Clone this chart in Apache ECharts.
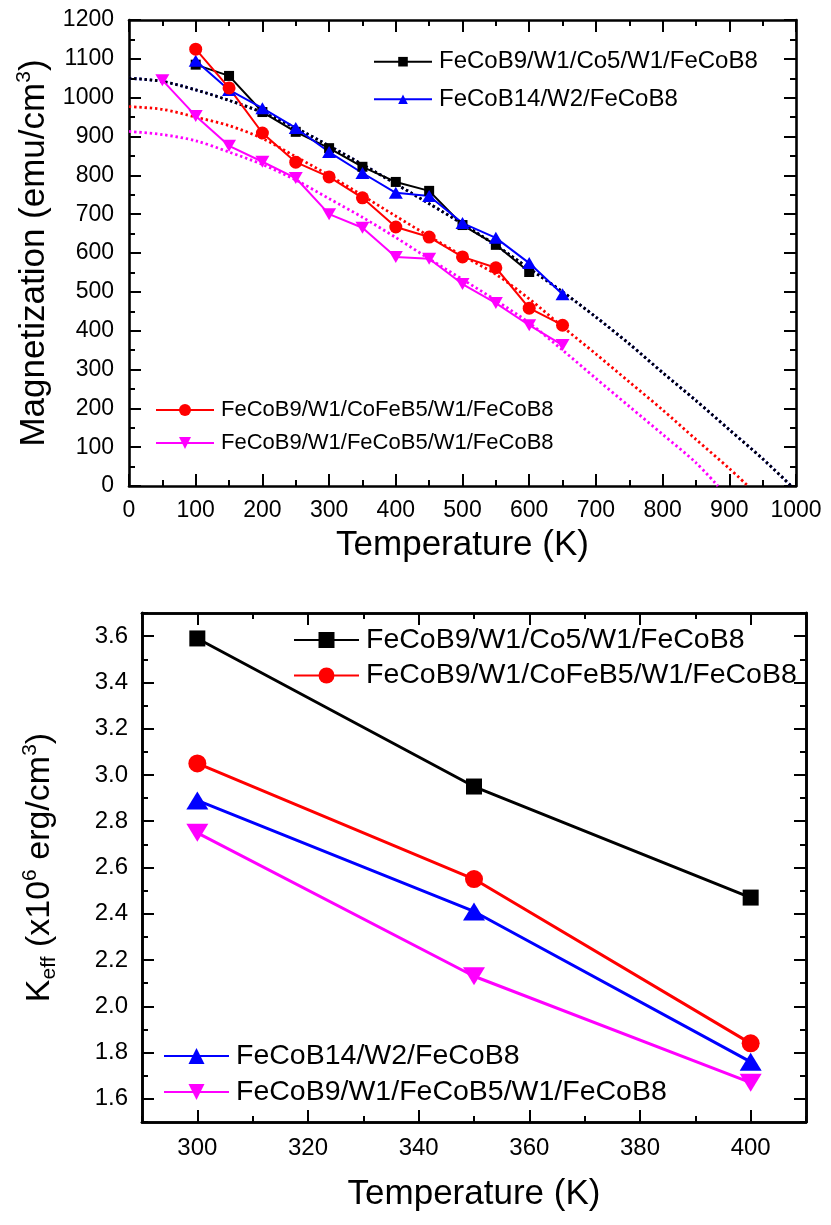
<!DOCTYPE html>
<html><head><meta charset="utf-8">
<script src="https://cdn.jsdelivr.net/npm/echarts@6/dist/echarts.min.js"></script>
<style>html,body{margin:0;padding:0;background:#fff}#c{width:831px;height:1225px}</style>
</head><body><div id="c"></div>
<script>
// ---------- labels ----------
const nameBlack = 'FeCoB9/W1/Co5/W1/FeCoB8';
const nameBlue = 'FeCoB14/W2/FeCoB8';
const nameRed = 'FeCoB9/W1/CoFeB5/W1/FeCoB8';
const nameMag = 'FeCoB9/W1/FeCoB5/W1/FeCoB8';

// ---------- top chart: magnetization vs temperature ----------
const tBlack = [100,150,200,250,300,350,400,450,500,550,600];
const mBlack = [1085,1056,963,912,870,822,783,760,672,621,551];
const tBlue = [100,150,200,250,300,350,400,450,500,550,600,650];
const mBlue = [1095,1020,973,922,860,806,755,747,677,639,574,494];
const tRed = [100,150,200,250,300,350,400,450,500,550,600,650];
const mRed = [1125,1025,909,834,796,742,667,641,590,562,458,414];
const tMag = [50,100,150,200,250,300,350,400,450,500,550,600,650];
const mMag = [1045,953,876,835,793,700,665,590,585,520,471,414,363];

// fitted curves (dotted)
const fitTBlack = [0,50,100,150,200,250,300,350,400,450,500,550,600,650,700,750,800,850,900,950,993];
const fitBlack = [1050,1042,1020,993,962,922,876,828,778,727,675,620,560,500,435,366,292,220,145,70,0];
const fitTBlue = [0,50,100,150,200,250,300,350,400,450,500,550,600,650,700,750,800,850,900,950,993];
const fitBlue = [1050,1042,1020,993,962,922,876,828,778,727,675,620,560,500,435,366,292,220,145,70,0];
const fitTRed = [0,50,100,150,200,250,300,350,400,450,500,550,600,650,700,750,800,850,900,928];
const fitRed = [977,970,950,928,895,848,800,748,695,643,593,545,482,410,340,268,196,120,45,0];
const fitTMag = [0,50,100,150,200,250,300,350,400,450,500,550,600,650,700,750,800,850,883];
const fitMag = [913,905,889,860,828,788,740,692,640,585,532,478,420,350,277,205,133,60,0];

// ---------- bottom chart: Keff vs temperature ----------
const tempK = [300,350,400];
const kBlack = [3.59,2.95,2.47];
const kRed = [3.05,2.55,1.84];
const kBlue = [2.89,2.41,1.76];
const kMag = [2.75,2.13,1.67];

const xMajorB = [300,320,340,360,380,400];
const xMinorB = [290,310,330,350,370,390,410];
const yMajorB = [1.6,1.8,2.0,2.2,2.4,2.6,2.8,3.0,3.2,3.4,3.6];
const yMinorB = [1.5,1.7,1.9,2.1,2.3,2.5,2.7,2.9,3.1,3.3,3.5,3.7];

const FF = 'Liberation Sans, Arial, sans-serif';
const pair = (xs, ys) => xs.map((x, i) => [x, ys[i]]);
const TRI_UP = 'path://M5,0L10,8.66L0,8.66Z';
const TRI_DN = 'path://M0,0L10,0L5,8.66Z';

const legendText = {
  tBlack: nameBlack, tBlue: nameBlue, tRed: nameRed, tMag: nameMag,
  bBlack: nameBlack, bBlue: nameBlue, bRed: nameRed, bMag: nameMag
};

const axLine = { show: true, onZero: false, lineStyle: { color: '#000', width: 2.6 } };

function topX(pos, labels) {
  return {
    type: 'value', gridIndex: 0, position: pos, min: 0, max: 1000, interval: 100,
    axisLine: axLine,
    axisTick: { show: true, inside: true, length: 12, lineStyle: { color: '#000', width: 2 } },
    minorTick: { show: true, splitNumber: 2, length: 6, lineStyle: { color: '#000', width: 2 } },
    splitLine: { show: false },
    axisLabel: { show: labels, margin: 13, fontSize: 23, color: '#000', fontFamily: FF, formatter: v => String(v) },
    name: labels ? 'Temperature (K)' : '', nameLocation: 'middle', nameGap: 42,
    nameTextStyle: { fontSize: 35, color: '#000', fontFamily: FF }
  };
}
function topY(pos, labels) {
  return {
    type: 'value', gridIndex: 0, position: pos, min: 0, max: 1200, interval: 100,
    axisLine: axLine,
    axisTick: { show: true, inside: true, length: 12, lineStyle: { color: '#000', width: 2 } },
    minorTick: { show: true, splitNumber: 2, length: 6, lineStyle: { color: '#000', width: 2 } },
    splitLine: { show: false },
    axisLabel: { show: labels, margin: 15, fontSize: 23, color: '#000', fontFamily: FF, formatter: v => String(v) },
    name: labels ? '{a|Magnetization (emu/cm}{s|3}{a|)}' : '', nameLocation: 'middle', nameGap: 75,
    nameTextStyle: { color: '#000', fontFamily: FF, rich: {
      a: { fontSize: 35, lineHeight: 40, fontFamily: FF, color: '#000' },
      s: { fontSize: 21, lineHeight: 16, verticalAlign: 'top', fontFamily: FF, color: '#000' } } }
  };
}
function botX(pos, major, labels) {
  return {
    type: 'value', gridIndex: 1, position: pos, min: 290, max: 410,
    axisLine: axLine,
    axisTick: { show: true, inside: true, length: major ? 12 : 6, customValues: major ? xMajorB : xMinorB,
      lineStyle: { color: '#000', width: 2 } },
    splitLine: { show: false },
    axisLabel: { show: labels, customValues: xMajorB, margin: 14, fontSize: 24, color: '#000', fontFamily: FF,
      formatter: v => String(v) },
    name: labels ? 'Temperature (K)' : '', nameLocation: 'middle', nameGap: 55,
    nameTextStyle: { fontSize: 35, color: '#000', fontFamily: FF }
  };
}
function botY(pos, major, labels) {
  return {
    type: 'value', gridIndex: 1, position: pos, min: 1.5, max: 3.7,
    axisLine: axLine,
    axisTick: { show: true, inside: true, length: major ? 12 : 6, customValues: major ? yMajorB : yMinorB,
      lineStyle: { color: '#000', width: 2 } },
    splitLine: { show: false },
    axisLabel: { show: labels, customValues: yMajorB, margin: 14, fontSize: 24, color: '#000', fontFamily: FF,
      formatter: v => Number(v).toFixed(1) },
    name: labels ? '{a|K}{b|eff}{a| (x10}{s|6}{a| erg/cm}{s|3}{a|)}' : '', nameLocation: 'middle', nameGap: 82,
    nameTextStyle: { color: '#000', fontFamily: FF, rich: {
      a: { fontSize: 34, lineHeight: 40, fontFamily: FF, color: '#000' },
      b: { fontSize: 21, lineHeight: 12, verticalAlign: 'bottom', fontFamily: FF, color: '#000' },
      s: { fontSize: 21, lineHeight: 16, verticalAlign: 'top', fontFamily: FF, color: '#000' } } }
  };
}

function fitSeries(xs, ys, color) {
  return {
    type: 'line', xAxisIndex: 0, yAxisIndex: 0, data: pair(xs, ys), showSymbol: false, symbol: 'none',
    smooth: 0.3, z: 1, silent: true,
    lineStyle: { color: color, width: 2.8, type: [2.4, 2.8] }
  };
}
function dataSeries(name, xs, ys, color, symbol, size, xi, yi, lw) {
  return {
    name: name, type: 'line', xAxisIndex: xi, yAxisIndex: yi, data: pair(xs, ys),
    symbol: symbol, symbolSize: size, showAllSymbol: true, z: 3,
    itemStyle: { color: color }, lineStyle: { color: color, width: lw }
  };
}

function legend(names, left, top, iw, ih, fs, lh, gap) {
  return {
    data: names, left: left, top: top, orient: 'vertical', padding: 0,
    itemWidth: iw, itemHeight: ih, itemGap: gap, selectedMode: false,
    formatter: n => legendText[n],
    textStyle: { fontSize: fs, lineHeight: lh, color: '#000', fontFamily: FF, padding: [0,0,0,2] }
  };
}

const option = {
  animation: false,
  backgroundColor: '#fff',
  grid: [
    { left: 129, top: 20, width: 667, height: 466 },
    { left: 142, top: 613, width: 664, height: 509 }
  ],
  xAxis: [ topX('bottom', true), topX('top', false),
           botX('bottom', true, true), botX('bottom', false, false),
           botX('top', true, false), botX('top', false, false) ],
  yAxis: [ topY('left', true), topY('right', false),
           botY('left', true, true), botY('left', false, false),
           botY('right', true, false), botY('right', false, false) ],
  legend: [
    legend(['tBlack','tBlue'], 373, 48.7, 58, 12, 24, 26, 11.6),
    legend(['tRed','tMag'], 155, 398, 58, 15, 22, 24, 9),
    legend(['bBlack','bRed'], 293, 624.5, 65, 20, 28.5, 31, 4.5),
    legend(['bBlue','bMag'], 163, 1040.5, 65, 20, 28.5, 31, 5)
  ],
  series: [
    fitSeries(fitTBlue, fitBlue, '#0000ff'),
    fitSeries(fitTBlack, fitBlack, '#000000'),
    fitSeries(fitTRed, fitRed, '#ff0000'),
    fitSeries(fitTMag, fitMag, '#ff00ff'),
    dataSeries('tBlack', tBlack, mBlack, '#000000', 'rect', 10, 0, 0, 2),
    dataSeries('tBlue', tBlue, mBlue, '#0000ff', TRI_UP, [14, 12], 0, 0, 2),
    dataSeries('tRed', tRed, mRed, '#ff0000', 'circle', 13, 0, 0, 2),
    dataSeries('tMag', tMag, mMag, '#ff00ff', TRI_DN, [14, 12], 0, 0, 2),
    dataSeries('bBlack', tempK, kBlack, '#000000', 'rect', 16, 2, 2, 3),
    dataSeries('bRed', tempK, kRed, '#ff0000', 'circle', 18, 2, 2, 3),
    dataSeries('bBlue', tempK, kBlue, '#0000ff', TRI_UP, [22, 18], 2, 2, 3),
    dataSeries('bMag', tempK, kMag, '#ff00ff', TRI_DN, [22, 18], 2, 2, 3)
  ]
};
const chart = echarts.init(document.getElementById('c'), null, { renderer: 'canvas' });
chart.setOption(option);
</script>
</body></html>
